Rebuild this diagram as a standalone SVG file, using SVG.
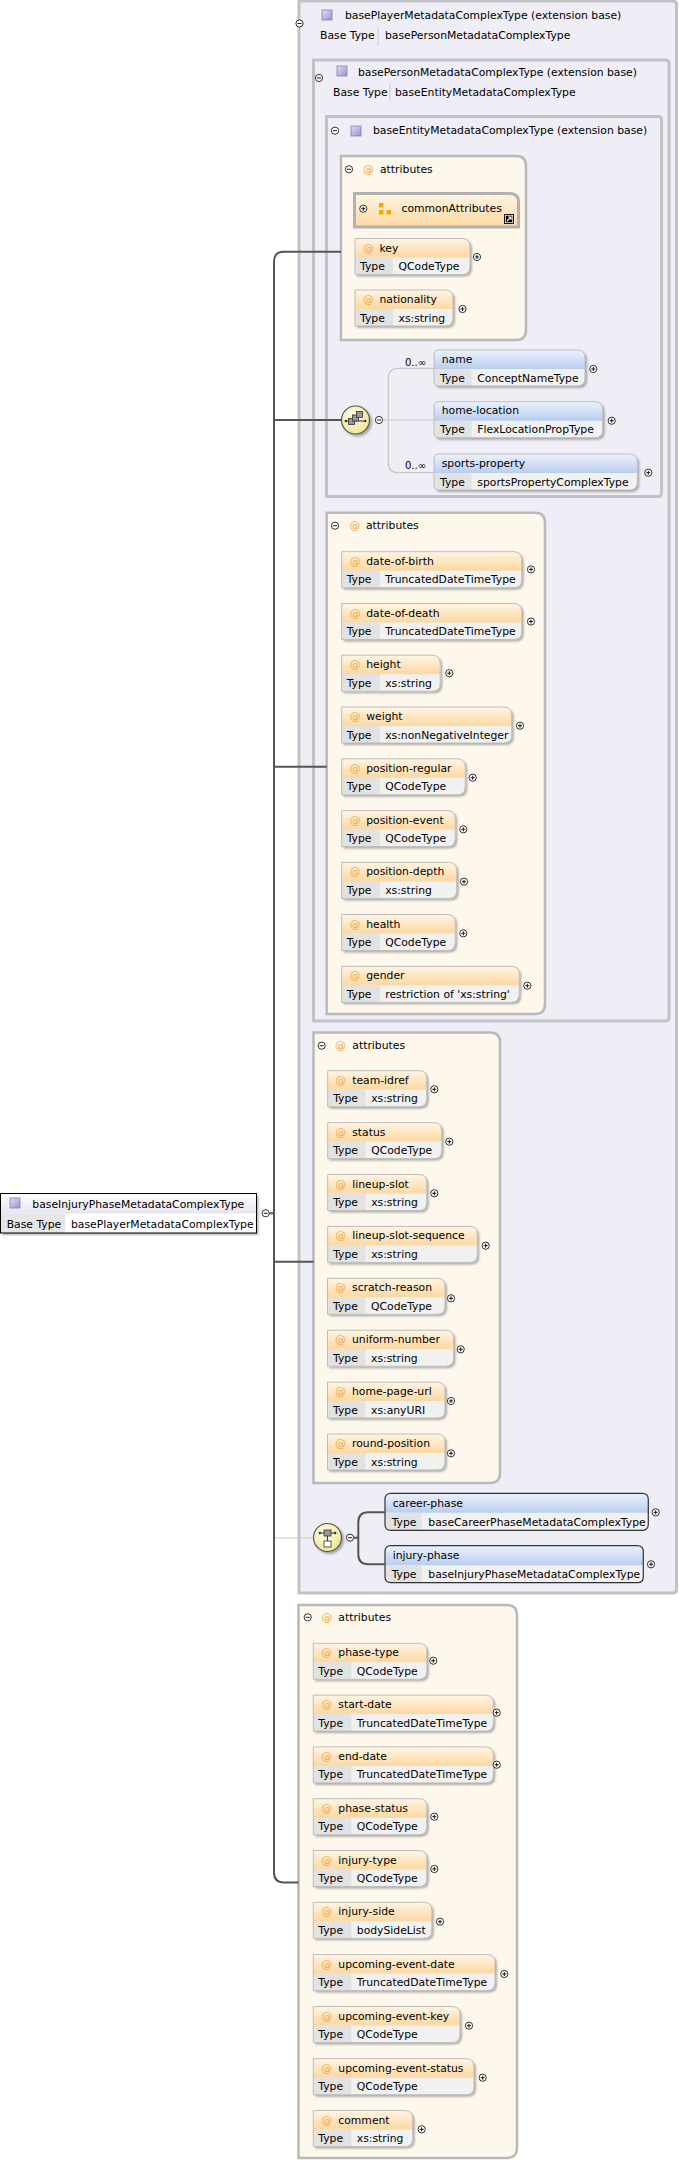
<svg xmlns="http://www.w3.org/2000/svg" xmlns:xlink="http://www.w3.org/1999/xlink" width="679" height="2161" viewBox="0 0 679 2161">
<style>
.t{font-family:"DejaVu Sans",sans-serif;font-size:10.8px;fill:#000}
.s{font-size:10px}
.at{fill:#f0a848}
.cont{fill:#efedf5;stroke:#c2c2c6;stroke-width:3}
.abox{fill:#fdf7ec;stroke:#b9b9b9;stroke-width:2.5}
.row{fill:#f1f1f1;filter:url(#sh)}
.ah{fill:url(#gA)}
.eh{fill:url(#gE)}
.tc{fill:#e2e2e2}
.out{fill:none;stroke:#bdbdbd;stroke-width:1}
.dout{fill:none;stroke:#333;stroke-width:1.2}
.sep{stroke:#c8c8c8;stroke-width:1}
.conn{fill:none;stroke:#555;stroke-width:2}
.lconn{fill:none;stroke:#c6c6c6;stroke-width:1.2}
.pm{fill:#fff;stroke:#000;stroke-width:0.8}
.pml{stroke:#000;stroke-width:0.9;fill:none}
.ul{stroke:url(#gU);stroke-width:2}
</style>
<defs>
<filter id="sh" x="-10%" y="-10%" width="130%" height="140%"><feDropShadow dx="2" dy="2" stdDeviation="1" flood-color="#000" flood-opacity="0.3"/></filter>
<linearGradient id="gA" x1="0" y1="0" x2="0" y2="1"><stop offset="0" stop-color="#fff5e4"/><stop offset="1" stop-color="#fcd8a0"/></linearGradient>
<linearGradient id="gE" x1="0" y1="0" x2="0" y2="1"><stop offset="0" stop-color="#edf2fc"/><stop offset="1" stop-color="#b9cdef"/></linearGradient>
<linearGradient id="gP" x1="0" y1="0" x2="1" y2="1"><stop offset="0" stop-color="#e4dcf6"/><stop offset="1" stop-color="#9f8fd2"/></linearGradient>
<linearGradient id="gM" x1="0" y1="0" x2="0" y2="1"><stop offset="0" stop-color="#ffffff"/><stop offset="1" stop-color="#e6e4ee"/></linearGradient>
<linearGradient id="gU" x1="0" y1="0" x2="1" y2="0"><stop offset="0" stop-color="#d4d2dc"/><stop offset="1" stop-color="#d4d2dc" stop-opacity="0"/></linearGradient>
<radialGradient id="gC" cx="0.4" cy="0.35" r="0.7"><stop offset="0" stop-color="#fffef0"/><stop offset="1" stop-color="#efe48a"/></radialGradient>
<g id="plus"><circle class="pm" r="3.6"/><path class="pml" d="M-2 0H2M0 -2V2"/></g>
<g id="minus"><circle class="pm" r="3.6"/><path class="pml" d="M-2 0H2"/></g>
<g id="picon"><rect width="10" height="10" fill="url(#gP)" stroke="#8a7cbc" stroke-width="0.8"/></g>
</defs>

<!-- containers -->
<g id="basePlayerMetadataComplexType">
<path class="cont" d="M299 1H673Q676.5 1 676.5 4.5V1589.5Q676.5 1593 673 1593H299Z"/>
<line class="ul" x1="304" y1="25" x2="623" y2="25"/>
<use href="#picon" x="322" y="10"/>
<text class="t" x="345" y="18.5">basePlayerMetadataComplexType (extension base)</text>
<text class="t" x="320" y="38.5">Base Type</text>
<line class="sep" x1="378" y1="27" x2="378" y2="46"/>
<text class="t" x="385" y="38.5">basePersonMetadataComplexType</text>
<line class="ul" x1="304" y1="47" x2="583" y2="47" stroke-width="1.5"/>
<use href="#minus" x="299.5" y="23.5"/>
</g>
<g id="basePersonMetadataComplexType">
<path class="cont" d="M313.5 60H665.5Q669 60 669 63.5V1017.5Q669 1021 665.5 1021H313.5Z"/>
<line class="ul" x1="318" y1="80" x2="640" y2="80"/>
<use href="#picon" x="337" y="66"/>
<text class="t" x="358" y="75.5">basePersonMetadataComplexType (extension base)</text>
<text class="t" x="333" y="95.5">Base Type</text>
<line class="sep" x1="390" y1="84" x2="390" y2="101"/>
<text class="t" x="395" y="95.5">baseEntityMetadataComplexType</text>
<line class="ul" x1="318" y1="102" x2="583" y2="102" stroke-width="1.5"/>
<use href="#minus" x="319" y="78"/>
</g>
<g id="baseEntityMetadataComplexType">
<path class="cont" d="M326.5 116.5H658Q661.5 116.5 661.5 120V493Q661.5 496.5 658 496.5H326.5Z"/>
<line class="ul" x1="330" y1="143" x2="580" y2="143"/>
<use href="#minus" x="335" y="130.7"/>
<use href="#picon" x="351" y="126"/>
<text class="t" x="373" y="134">baseEntityMetadataComplexType (extension base)</text>
</g>

<!-- attribute groups -->
<g id="entityAttributes">
<path class="abox" d="M341 156H516Q526 156 526 166V330Q526 340 516 340H341Z"/>
<line class="ul" x1="343" y1="181.5" x2="480" y2="181.5"/>
<use href="#minus" x="349" y="169.3"/>
<text class="t at" x="363" y="173">@</text>
<text class="t" x="380" y="173">attributes</text>
</g>
<g id="commonAttributes">
<path d="M354.5 193.5H510Q518.5 193.5 518.5 202V227H354.5Z" fill="url(#gA)" stroke="#b2b2b2" stroke-width="3"/>
<use href="#plus" x="363.3" y="208.7"/>
<rect x="379" y="203" width="4.5" height="4.5" fill="#f0a800"/>
<rect x="379" y="210" width="4.5" height="4.5" fill="#f0a800"/>
<rect x="386.5" y="210" width="4.5" height="4.5" fill="#f0a800"/>
<text class="t" x="401.5" y="212">commonAttributes</text>
<rect x="504" y="214" width="10" height="10" fill="#000"/>
<rect x="505.3" y="215.3" width="7.4" height="7.4" fill="none" stroke="#fff" stroke-width="0.8"/>
<path d="M507 221L511 217M508.3 217H511V219.7" stroke="#fff" stroke-width="1.2" fill="none"/>
</g>

<g id="attr-key" transform="translate(355,238.5)">
<path class="row" d="M0 0H107Q115 0 115 8V28Q115 36 107 36H0Z"/><path class="ah" d="M0 0H107Q115 0 115 8V19H0Z"/><rect class="tc" y="19" width="38" height="17"/><path class="out" d="M0 0H107Q115 0 115 8V28Q115 36 107 36H0Z"/>
<text class="t at" x="8" y="13">@</text><text class="t" x="24.5" y="13">key</text><text class="t" x="5" y="31.5">Type</text><text class="t" x="43.5" y="31.5">QCodeType</text><use href="#plus" x="122" y="18.5"/></g>
<g id="attr-nationality" transform="translate(355,290)">
<path class="row" d="M0 0H90Q98 0 98 8V28Q98 36 90 36H0Z"/><path class="ah" d="M0 0H90Q98 0 98 8V19H0Z"/><rect class="tc" y="19" width="38" height="17"/><path class="out" d="M0 0H90Q98 0 98 8V28Q98 36 90 36H0Z"/>
<text class="t at" x="8" y="13">@</text><text class="t" x="24.5" y="13">nationality</text><text class="t" x="5" y="31.5">Type</text><text class="t" x="43.5" y="31.5">xs:string</text><use href="#plus" x="107.5" y="19"/></g>

<!-- sequence -->
<g id="sequence">
<circle cx="355.5" cy="420" r="14" fill="url(#gC)" stroke="#555" stroke-width="1.2" filter="url(#sh)"/>
<path d="M345.5 421H365.5" stroke="#333" stroke-width="1"/>
<circle cx="345.8" cy="421" r="1.2" fill="#333"/><circle cx="365.2" cy="421" r="1.2" fill="#333"/>
<rect x="348.5" y="418.5" width="6" height="6" fill="#999" stroke="#333" stroke-width="0.8"/>
<rect x="352.5" y="415" width="6" height="6" fill="#999" stroke="#333" stroke-width="0.8"/>
<rect x="356.5" y="411.5" width="6" height="6" fill="#999" stroke="#333" stroke-width="0.8"/>
<use href="#minus" x="379" y="420"/>
</g>
<g id="elem-name" transform="translate(434,350)">
<path class="row" d="M5 0H143Q151 0 151 8V28Q151 36 143 36H5Q0 36 0 31V5Q0 0 5 0Z"/><path class="eh" d="M5 0H143Q151 0 151 8V19H0V5Q0 0 5 0Z"/><path class="tc" d="M0 19H37.7V36H5Q0 36 0 31Z"/><path class="out" d="M5 0H143Q151 0 151 8V28Q151 36 143 36H5Q0 36 0 31V5Q0 0 5 0Z"/>
<text class="t" x="7.7" y="12.5">name</text><text class="t" x="6" y="31.5">Type</text><text class="t" x="43.3" y="31.5">ConceptNameType</text><use href="#plus" x="159.3" y="19"/></g>
<text class="t s" x="405" y="365.5">0..∞</text>
<g id="elem-home-location" transform="translate(434,401.7)">
<path class="row" d="M5 0H160.7Q168.7 0 168.7 8V28Q168.7 36 160.7 36H5Q0 36 0 31V5Q0 0 5 0Z"/><path class="eh" d="M5 0H160.7Q168.7 0 168.7 8V19H0V5Q0 0 5 0Z"/><path class="tc" d="M0 19H37.7V36H5Q0 36 0 31Z"/><path class="out" d="M5 0H160.7Q168.7 0 168.7 8V28Q168.7 36 160.7 36H5Q0 36 0 31V5Q0 0 5 0Z"/>
<text class="t" x="7.7" y="12.5">home-location</text><text class="t" x="6" y="31.5">Type</text><text class="t" x="43.3" y="31.5">FlexLocationPropType</text><use href="#plus" x="177.7" y="19"/></g>
<g id="elem-sports-property" transform="translate(434,454)">
<path class="row" d="M5 0H195.3Q203.3 0 203.3 8V28Q203.3 36 195.3 36H5Q0 36 0 31V5Q0 0 5 0Z"/><path class="eh" d="M5 0H195.3Q203.3 0 203.3 8V19H0V5Q0 0 5 0Z"/><path class="tc" d="M0 19H37.7V36H5Q0 36 0 31Z"/><path class="out" d="M5 0H195.3Q203.3 0 203.3 8V28Q203.3 36 195.3 36H5Q0 36 0 31V5Q0 0 5 0Z"/>
<text class="t" x="7.7" y="12.5">sports-property</text><text class="t" x="6" y="31.5">Type</text><text class="t" x="43.3" y="31.5">sportsPropertyComplexType</text><use href="#plus" x="214.3" y="18.7"/></g>
<text class="t s" x="405" y="468.5">0..∞</text>

<!-- person attributes -->
<g id="personAttributes">
<path class="abox" d="M326.7 512.7H535Q545 512.7 545 522.7V1004Q545 1014 535 1014H326.7Z"/>
<line class="ul" x1="329" y1="538.3" x2="490" y2="538.3"/>
<use href="#minus" x="335" y="525.7"/>
<text class="t at" x="349.5" y="528.5">@</text>
<text class="t" x="366" y="528.5">attributes</text>
</g>
<g id="attr-date-of-birth" transform="translate(341.7,551.7)">
<path class="row" d="M0 0H172Q180 0 180 8V28Q180 36 172 36H0Z"/><path class="ah" d="M0 0H172Q180 0 180 8V19H0Z"/><rect class="tc" y="19" width="38" height="17"/><path class="out" d="M0 0H172Q180 0 180 8V28Q180 36 172 36H0Z"/>
<text class="t at" x="8" y="13">@</text><text class="t" x="24.5" y="13">date-of-birth</text><text class="t" x="5" y="31.5">Type</text><text class="t" x="43.5" y="31.5">TruncatedDateTimeType</text><use href="#plus" x="189.3" y="17.7"/></g>
<g id="attr-date-of-death" transform="translate(341.7,603.5)">
<path class="row" d="M0 0H172Q180 0 180 8V28Q180 36 172 36H0Z"/><path class="ah" d="M0 0H172Q180 0 180 8V19H0Z"/><rect class="tc" y="19" width="38" height="17"/><path class="out" d="M0 0H172Q180 0 180 8V28Q180 36 172 36H0Z"/>
<text class="t at" x="8" y="13">@</text><text class="t" x="24.5" y="13">date-of-death</text><text class="t" x="5" y="31.5">Type</text><text class="t" x="43.5" y="31.5">TruncatedDateTimeType</text><use href="#plus" x="189.3" y="18"/></g>
<g id="attr-height" transform="translate(341.7,655.2)">
<path class="row" d="M0 0H90.5Q98.5 0 98.5 8V28Q98.5 36 90.5 36H0Z"/><path class="ah" d="M0 0H90.5Q98.5 0 98.5 8V19H0Z"/><rect class="tc" y="19" width="38" height="17"/><path class="out" d="M0 0H90.5Q98.5 0 98.5 8V28Q98.5 36 90.5 36H0Z"/>
<text class="t at" x="8" y="13">@</text><text class="t" x="24.5" y="13">height</text><text class="t" x="5" y="31.5">Type</text><text class="t" x="43.5" y="31.5">xs:string</text><use href="#plus" x="107.6" y="18"/></g>
<g id="attr-weight" transform="translate(341.7,707)">
<path class="row" d="M0 0H162Q170 0 170 8V28Q170 36 162 36H0Z"/><path class="ah" d="M0 0H162Q170 0 170 8V19H0Z"/><rect class="tc" y="19" width="38" height="17"/><path class="out" d="M0 0H162Q170 0 170 8V28Q170 36 162 36H0Z"/>
<text class="t at" x="8" y="13">@</text><text class="t" x="24.5" y="13">weight</text><text class="t" x="5" y="31.5">Type</text><text class="t" x="43.5" y="31.5">xs:nonNegativeInteger</text><use href="#plus" x="178.3" y="18.7"/></g>
<g id="attr-position-regular" transform="translate(341.7,758.8)">
<path class="row" d="M0 0H115.5Q123.5 0 123.5 8V28Q123.5 36 115.5 36H0Z"/><path class="ah" d="M0 0H115.5Q123.5 0 123.5 8V19H0Z"/><rect class="tc" y="19" width="38" height="17"/><path class="out" d="M0 0H115.5Q123.5 0 123.5 8V28Q123.5 36 115.5 36H0Z"/>
<text class="t at" x="8" y="13">@</text><text class="t" x="24.5" y="13">position-regular</text><text class="t" x="5" y="31.5">Type</text><text class="t" x="43.5" y="31.5">QCodeType</text><use href="#plus" x="131" y="18.9"/></g>
<g id="attr-position-event" transform="translate(341.7,810.6)">
<path class="row" d="M0 0H105.5Q113.5 0 113.5 8V28Q113.5 36 105.5 36H0Z"/><path class="ah" d="M0 0H105.5Q113.5 0 113.5 8V19H0Z"/><rect class="tc" y="19" width="38" height="17"/><path class="out" d="M0 0H105.5Q113.5 0 113.5 8V28Q113.5 36 105.5 36H0Z"/>
<text class="t at" x="8" y="13">@</text><text class="t" x="24.5" y="13">position-event</text><text class="t" x="5" y="31.5">Type</text><text class="t" x="43.5" y="31.5">QCodeType</text><use href="#plus" x="121.6" y="18.7"/></g>
<g id="attr-position-depth" transform="translate(341.7,862.4)">
<path class="row" d="M0 0H107Q115 0 115 8V28Q115 36 107 36H0Z"/><path class="ah" d="M0 0H107Q115 0 115 8V19H0Z"/><rect class="tc" y="19" width="38" height="17"/><path class="out" d="M0 0H107Q115 0 115 8V28Q115 36 107 36H0Z"/>
<text class="t at" x="8" y="13">@</text><text class="t" x="24.5" y="13">position-depth</text><text class="t" x="5" y="31.5">Type</text><text class="t" x="43.5" y="31.5">xs:string</text><use href="#plus" x="122.3" y="19.3"/></g>
<g id="attr-health" transform="translate(341.7,914.5)">
<path class="row" d="M0 0H105.5Q113.5 0 113.5 8V28Q113.5 36 105.5 36H0Z"/><path class="ah" d="M0 0H105.5Q113.5 0 113.5 8V19H0Z"/><rect class="tc" y="19" width="38" height="17"/><path class="out" d="M0 0H105.5Q113.5 0 113.5 8V28Q113.5 36 105.5 36H0Z"/>
<text class="t at" x="8" y="13">@</text><text class="t" x="24.5" y="13">health</text><text class="t" x="5" y="31.5">Type</text><text class="t" x="43.5" y="31.5">QCodeType</text><use href="#plus" x="121.6" y="18.8"/></g>
<g id="attr-gender" transform="translate(341.7,966.3)">
<path class="row" d="M0 0H169.5Q177.5 0 177.5 8V28Q177.5 36 169.5 36H0Z"/><path class="ah" d="M0 0H169.5Q177.5 0 177.5 8V19H0Z"/><rect class="tc" y="19" width="38" height="17"/><path class="out" d="M0 0H169.5Q177.5 0 177.5 8V28Q177.5 36 169.5 36H0Z"/>
<text class="t at" x="8" y="13">@</text><text class="t" x="24.5" y="13">gender</text><text class="t" x="5" y="31.5">Type</text><text class="t" x="43.5" y="31.5">restriction of 'xs:string'</text><use href="#plus" x="185.6" y="19.4"/></g>

<!-- player attributes -->
<g id="playerAttributes">
<path class="abox" d="M313.5 1032.5H490Q500 1032.5 500 1042.5V1473Q500 1483 490 1483H313.5Z"/>
<line class="ul" x1="316" y1="1058.5" x2="455" y2="1058.5"/>
<use href="#minus" x="321.7" y="1045.7"/>
<text class="t at" x="335" y="1048.5">@</text>
<text class="t" x="352.3" y="1048.5">attributes</text>
</g>
<g id="attr-team-idref" transform="translate(327.7,1070.7)">
<path class="row" d="M0 0H91Q99 0 99 8V28Q99 36 91 36H0Z"/><path class="ah" d="M0 0H91Q99 0 99 8V19H0Z"/><rect class="tc" y="19" width="38" height="17"/><path class="out" d="M0 0H91Q99 0 99 8V28Q99 36 91 36H0Z"/>
<text class="t at" x="7.5" y="13">@</text><text class="t" x="24.5" y="13">team-idref</text><text class="t" x="5.5" y="31.5">Type</text><text class="t" x="43.5" y="31.5">xs:string</text><use href="#plus" x="106.6" y="18.6"/></g>
<g id="attr-status" transform="translate(327.7,1122.6)">
<path class="row" d="M0 0H106Q114 0 114 8V28Q114 36 106 36H0Z"/><path class="ah" d="M0 0H106Q114 0 114 8V19H0Z"/><rect class="tc" y="19" width="38" height="17"/><path class="out" d="M0 0H106Q114 0 114 8V28Q114 36 106 36H0Z"/>
<text class="t at" x="7.5" y="13">@</text><text class="t" x="24.5" y="13">status</text><text class="t" x="5.5" y="31.5">Type</text><text class="t" x="43.5" y="31.5">QCodeType</text><use href="#plus" x="121.6" y="19.1"/></g>
<g id="attr-lineup-slot" transform="translate(327.7,1174.5)">
<path class="row" d="M0 0H91Q99 0 99 8V28Q99 36 91 36H0Z"/><path class="ah" d="M0 0H91Q99 0 99 8V19H0Z"/><rect class="tc" y="19" width="38" height="17"/><path class="out" d="M0 0H91Q99 0 99 8V28Q99 36 91 36H0Z"/>
<text class="t at" x="7.5" y="13">@</text><text class="t" x="24.5" y="13">lineup-slot</text><text class="t" x="5.5" y="31.5">Type</text><text class="t" x="43.5" y="31.5">xs:string</text><use href="#plus" x="106.6" y="18.8"/></g>
<g id="attr-lineup-slot-sequence" transform="translate(327.7,1226.4)">
<path class="row" d="M0 0H141.6Q149.6 0 149.6 8V28Q149.6 36 141.6 36H0Z"/><path class="ah" d="M0 0H141.6Q149.6 0 149.6 8V19H0Z"/><rect class="tc" y="19" width="38" height="17"/><path class="out" d="M0 0H141.6Q149.6 0 149.6 8V28Q149.6 36 141.6 36H0Z"/>
<text class="t at" x="7.5" y="13">@</text><text class="t" x="24.5" y="13">lineup-slot-sequence</text><text class="t" x="5.5" y="31.5">Type</text><text class="t" x="43.5" y="31.5">xs:string</text><use href="#plus" x="158" y="19.3"/></g>
<g id="attr-scratch-reason" transform="translate(327.5,1278.3)">
<path class="row" d="M0 0H109.5Q117.5 0 117.5 8V28Q117.5 36 109.5 36H0Z"/><path class="ah" d="M0 0H109.5Q117.5 0 117.5 8V19H0Z"/><rect class="tc" y="19" width="38" height="17"/><path class="out" d="M0 0H109.5Q117.5 0 117.5 8V28Q117.5 36 109.5 36H0Z"/>
<text class="t at" x="7.5" y="13">@</text><text class="t" x="24.5" y="13">scratch-reason</text><text class="t" x="5.5" y="31.5">Type</text><text class="t" x="43.5" y="31.5">QCodeType</text><use href="#plus" x="123.5" y="20"/></g>
<g id="attr-uniform-number" transform="translate(327.5,1330.2)">
<path class="row" d="M0 0H118Q126 0 126 8V28Q126 36 118 36H0Z"/><path class="ah" d="M0 0H118Q126 0 126 8V19H0Z"/><rect class="tc" y="19" width="38" height="17"/><path class="out" d="M0 0H118Q126 0 126 8V28Q126 36 118 36H0Z"/>
<text class="t at" x="7.5" y="13">@</text><text class="t" x="24.5" y="13">uniform-number</text><text class="t" x="5.5" y="31.5">Type</text><text class="t" x="43.5" y="31.5">xs:string</text><use href="#plus" x="133.2" y="19.1"/></g>
<g id="attr-home-page-url" transform="translate(327.5,1382.1)">
<path class="row" d="M0 0H109.5Q117.5 0 117.5 8V28Q117.5 36 109.5 36H0Z"/><path class="ah" d="M0 0H109.5Q117.5 0 117.5 8V19H0Z"/><rect class="tc" y="19" width="38" height="17"/><path class="out" d="M0 0H109.5Q117.5 0 117.5 8V28Q117.5 36 109.5 36H0Z"/>
<text class="t at" x="7.5" y="13">@</text><text class="t" x="24.5" y="13">home-page-url</text><text class="t" x="5.5" y="31.5">Type</text><text class="t" x="43.5" y="31.5">xs:anyURI</text><use href="#plus" x="123.5" y="18.9"/></g>
<g id="attr-round-position" transform="translate(327.5,1434)">
<path class="row" d="M0 0H109.5Q117.5 0 117.5 8V28Q117.5 36 109.5 36H0Z"/><path class="ah" d="M0 0H109.5Q117.5 0 117.5 8V19H0Z"/><rect class="tc" y="19" width="38" height="17"/><path class="out" d="M0 0H109.5Q117.5 0 117.5 8V28Q117.5 36 109.5 36H0Z"/>
<text class="t at" x="7.5" y="13">@</text><text class="t" x="24.5" y="13">round-position</text><text class="t" x="5.5" y="31.5">Type</text><text class="t" x="43.5" y="31.5">xs:string</text><use href="#plus" x="123.5" y="19.3"/></g>

<!-- choice -->
<g id="choice">
<circle cx="327.5" cy="1537.5" r="14" fill="url(#gC)" stroke="#555" stroke-width="1.2" filter="url(#sh)"/>
<path d="M319.5 1533H335.5M327.5 1536V1541" stroke="#333" stroke-width="1"/>
<circle cx="319.8" cy="1533" r="1.2" fill="#333"/><circle cx="335.2" cy="1533" r="1.2" fill="#333"/>
<rect x="324" y="1530" width="7" height="6" fill="#999" stroke="#333" stroke-width="0.8"/>
<rect x="324" y="1541" width="7" height="6" fill="#fff" stroke="#333" stroke-width="0.8"/>
<use href="#minus" x="350" y="1537.7"/>
</g>
<g id="elem-career-phase" transform="translate(385,1493.3)">
<path d="M6 0H257.3Q263.3 0 263.3 6V31Q263.3 37 257.3 37H6Q0 37 0 31V6Q0 0 6 0Z" fill="#f1f1f1"/><path class="eh" d="M6 0H257.3Q263.3 0 263.3 6V19.5H0V6Q0 0 6 0Z"/><path class="tc" d="M0 19.5H36.7V37H6Q0 37 0 31Z"/><path class="dout" d="M6 0H257.3Q263.3 0 263.3 6V31Q263.3 37 257.3 37H6Q0 37 0 31V6Q0 0 6 0Z"/>
<text class="t" x="7.7" y="13.4">career-phase</text><text class="t" x="6.7" y="32.5">Type</text><text class="t" x="43.3" y="32.5">baseCareerPhaseMetadataComplexType</text><use href="#plus" x="270.7" y="19"/></g>
<g id="elem-injury-phase" transform="translate(385,1545.7)">
<path d="M6 0H252.3Q258.3 0 258.3 6V31Q258.3 37 252.3 37H6Q0 37 0 31V6Q0 0 6 0Z" fill="#f1f1f1"/><path class="eh" d="M6 0H252.3Q258.3 0 258.3 6V19.5H0V6Q0 0 6 0Z"/><path class="tc" d="M0 19.5H36.7V37H6Q0 37 0 31Z"/><path class="dout" d="M6 0H252.3Q258.3 0 258.3 6V31Q258.3 37 252.3 37H6Q0 37 0 31V6Q0 0 6 0Z"/>
<text class="t" x="7.7" y="13.4">injury-phase</text><text class="t" x="6.7" y="32.5">Type</text><text class="t" x="43.3" y="32.5">baseInjuryPhaseMetadataComplexType</text><use href="#plus" x="266" y="18.6"/></g>

<!-- injury attributes -->
<g id="injuryAttributes">
<path class="abox" d="M298.5 1605H507Q517 1605 517 1615V2148Q517 2158 507 2158H298.5Z"/>
<line class="ul" x1="301" y1="1631" x2="460" y2="1631"/>
<use href="#minus" x="307.7" y="1617.3"/>
<text class="t at" x="321.5" y="1621">@</text>
<text class="t" x="338.3" y="1621">attributes</text>
</g>
<g id="attr-phase-type" transform="translate(313.3,1643.3)">
<path class="row" d="M0 0H105.5Q113.5 0 113.5 8V28Q113.5 36 105.5 36H0Z"/><path class="ah" d="M0 0H105.5Q113.5 0 113.5 8V19H0Z"/><rect class="tc" y="19" width="38" height="17"/><path class="out" d="M0 0H105.5Q113.5 0 113.5 8V28Q113.5 36 105.5 36H0Z"/>
<text class="t at" x="8" y="13">@</text><text class="t" x="25" y="13">phase-type</text><text class="t" x="5" y="31.5">Type</text><text class="t" x="43.5" y="31.5">QCodeType</text><use href="#plus" x="120" y="17.4"/></g>
<g id="attr-start-date" transform="translate(313.3,1695.1)">
<path class="row" d="M0 0H172Q180 0 180 8V28Q180 36 172 36H0Z"/><path class="ah" d="M0 0H172Q180 0 180 8V19H0Z"/><rect class="tc" y="19" width="38" height="17"/><path class="out" d="M0 0H172Q180 0 180 8V28Q180 36 172 36H0Z"/>
<text class="t at" x="8" y="13">@</text><text class="t" x="25" y="13">start-date</text><text class="t" x="5" y="31.5">Type</text><text class="t" x="43.5" y="31.5">TruncatedDateTimeType</text><use href="#plus" x="183.4" y="17.6"/></g>
<g id="attr-end-date" transform="translate(313.3,1746.9)">
<path class="row" d="M0 0H172Q180 0 180 8V28Q180 36 172 36H0Z"/><path class="ah" d="M0 0H172Q180 0 180 8V19H0Z"/><rect class="tc" y="19" width="38" height="17"/><path class="out" d="M0 0H172Q180 0 180 8V28Q180 36 172 36H0Z"/>
<text class="t at" x="8" y="13">@</text><text class="t" x="25" y="13">end-date</text><text class="t" x="5" y="31.5">Type</text><text class="t" x="43.5" y="31.5">TruncatedDateTimeType</text><use href="#plus" x="183.4" y="17.8"/></g>
<g id="attr-phase-status" transform="translate(313.3,1798.7)">
<path class="row" d="M0 0H105.5Q113.5 0 113.5 8V28Q113.5 36 105.5 36H0Z"/><path class="ah" d="M0 0H105.5Q113.5 0 113.5 8V19H0Z"/><rect class="tc" y="19" width="38" height="17"/><path class="out" d="M0 0H105.5Q113.5 0 113.5 8V28Q113.5 36 105.5 36H0Z"/>
<text class="t at" x="8" y="13">@</text><text class="t" x="25" y="13">phase-status</text><text class="t" x="5" y="31.5">Type</text><text class="t" x="43.5" y="31.5">QCodeType</text><use href="#plus" x="121" y="18"/></g>
<g id="attr-injury-type" transform="translate(313.3,1850.5)">
<path class="row" d="M0 0H105.5Q113.5 0 113.5 8V28Q113.5 36 105.5 36H0Z"/><path class="ah" d="M0 0H105.5Q113.5 0 113.5 8V19H0Z"/><rect class="tc" y="19" width="38" height="17"/><path class="out" d="M0 0H105.5Q113.5 0 113.5 8V28Q113.5 36 105.5 36H0Z"/>
<text class="t at" x="8" y="13">@</text><text class="t" x="25" y="13">injury-type</text><text class="t" x="5" y="31.5">Type</text><text class="t" x="43.5" y="31.5">QCodeType</text><use href="#plus" x="121" y="18.5"/></g>
<g id="attr-injury-side" transform="translate(313.3,1902.3)">
<path class="row" d="M0 0H110.5Q118.5 0 118.5 8V28Q118.5 36 110.5 36H0Z"/><path class="ah" d="M0 0H110.5Q118.5 0 118.5 8V19H0Z"/><rect class="tc" y="19" width="38" height="17"/><path class="out" d="M0 0H110.5Q118.5 0 118.5 8V28Q118.5 36 110.5 36H0Z"/>
<text class="t at" x="8" y="13">@</text><text class="t" x="25" y="13">injury-side</text><text class="t" x="5" y="31.5">Type</text><text class="t" x="43.5" y="31.5">bodySideList</text><use href="#plus" x="126.7" y="19.4"/></g>
<g id="attr-upcoming-event-date" transform="translate(313.3,1954.6)">
<path class="row" d="M0 0H173.7Q181.7 0 181.7 8V28Q181.7 36 173.7 36H0Z"/><path class="ah" d="M0 0H173.7Q181.7 0 181.7 8V19H0Z"/><rect class="tc" y="19" width="38" height="17"/><path class="out" d="M0 0H173.7Q181.7 0 181.7 8V28Q181.7 36 173.7 36H0Z"/>
<text class="t at" x="8" y="13">@</text><text class="t" x="25" y="13">upcoming-event-date</text><text class="t" x="5" y="31.5">Type</text><text class="t" x="43.5" y="31.5">TruncatedDateTimeType</text><use href="#plus" x="191" y="19.4"/></g>
<g id="attr-upcoming-event-key" transform="translate(313.3,2006.5)">
<path class="row" d="M0 0H138.7Q146.7 0 146.7 8V28Q146.7 36 138.7 36H0Z"/><path class="ah" d="M0 0H138.7Q146.7 0 146.7 8V19H0Z"/><rect class="tc" y="19" width="38" height="17"/><path class="out" d="M0 0H138.7Q146.7 0 146.7 8V28Q146.7 36 138.7 36H0Z"/>
<text class="t at" x="8" y="13">@</text><text class="t" x="25" y="13">upcoming-event-key</text><text class="t" x="5" y="31.5">Type</text><text class="t" x="43.5" y="31.5">QCodeType</text><use href="#plus" x="155.7" y="19.2"/></g>
<g id="attr-upcoming-event-status" transform="translate(313.3,2058.7)">
<path class="row" d="M0 0H152.7Q160.7 0 160.7 8V28Q160.7 36 152.7 36H0Z"/><path class="ah" d="M0 0H152.7Q160.7 0 160.7 8V19H0Z"/><rect class="tc" y="19" width="38" height="17"/><path class="out" d="M0 0H152.7Q160.7 0 160.7 8V28Q160.7 36 152.7 36H0Z"/>
<text class="t at" x="8" y="13">@</text><text class="t" x="25" y="13">upcoming-event-status</text><text class="t" x="5" y="31.5">Type</text><text class="t" x="43.5" y="31.5">QCodeType</text><use href="#plus" x="169.4" y="19"/></g>
<g id="attr-comment" transform="translate(313.3,2110.5)">
<path class="row" d="M0 0H91.4Q99.4 0 99.4 8V28Q99.4 36 91.4 36H0Z"/><path class="ah" d="M0 0H91.4Q99.4 0 99.4 8V19H0Z"/><rect class="tc" y="19" width="38" height="17"/><path class="out" d="M0 0H91.4Q99.4 0 99.4 8V28Q99.4 36 91.4 36H0Z"/>
<text class="t at" x="8" y="13">@</text><text class="t" x="25" y="13">comment</text><text class="t" x="5" y="31.5">Type</text><text class="t" x="43.5" y="31.5">xs:string</text><use href="#plus" x="108.4" y="18.8"/></g>

<!-- connectors -->
<g id="connectors">
<path class="conn" d="M341 251.7H284Q274 251.7 274 261.7V1872.5Q274 1882.5 284 1882.5H298.5"/>
<path class="conn" d="M274 420H341.5"/>
<path class="conn" d="M274 766.7H326.7"/>
<path class="conn" d="M274 1261.7H313.5"/>
<path class="conn" d="M269.3 1213.3H274"/>
<path class="lconn" d="M275 1538H313.5"/>
<path class="lconn" d="M382.6 420H434M434 368.3H398.3Q388.3 368.3 388.3 378.3V462.7Q388.3 472.7 398.3 472.7H434"/>
<path class="conn" d="M353.6 1537.7H358.3M385 1512.3H368.3Q358.3 1512.3 358.3 1522.3V1554.3Q358.3 1564.3 368.3 1564.3H385"/>
</g>

<!-- main node -->
<g id="baseInjuryPhaseMetadataComplexType">
<rect x="0.5" y="1193.5" width="256" height="39.5" fill="#fff" filter="url(#sh)"/>
<rect x="0.5" y="1193.5" width="256" height="20" fill="url(#gM)"/>
<rect x="0.5" y="1213.5" width="64.5" height="19.5" fill="#e6e6e6"/>
<rect x="0.5" y="1193.5" width="256" height="39.5" fill="none" stroke="#000" stroke-width="1"/>
<use href="#picon" x="10" y="1198"/>
<text class="t" x="32.3" y="1207.5">baseInjuryPhaseMetadataComplexType</text>
<text class="t" x="6.7" y="1228">Base Type</text>
<text class="t" x="71" y="1228">basePlayerMetadataComplexType</text>
<use href="#minus" x="265.7" y="1213.3"/>
</g>
</svg>
